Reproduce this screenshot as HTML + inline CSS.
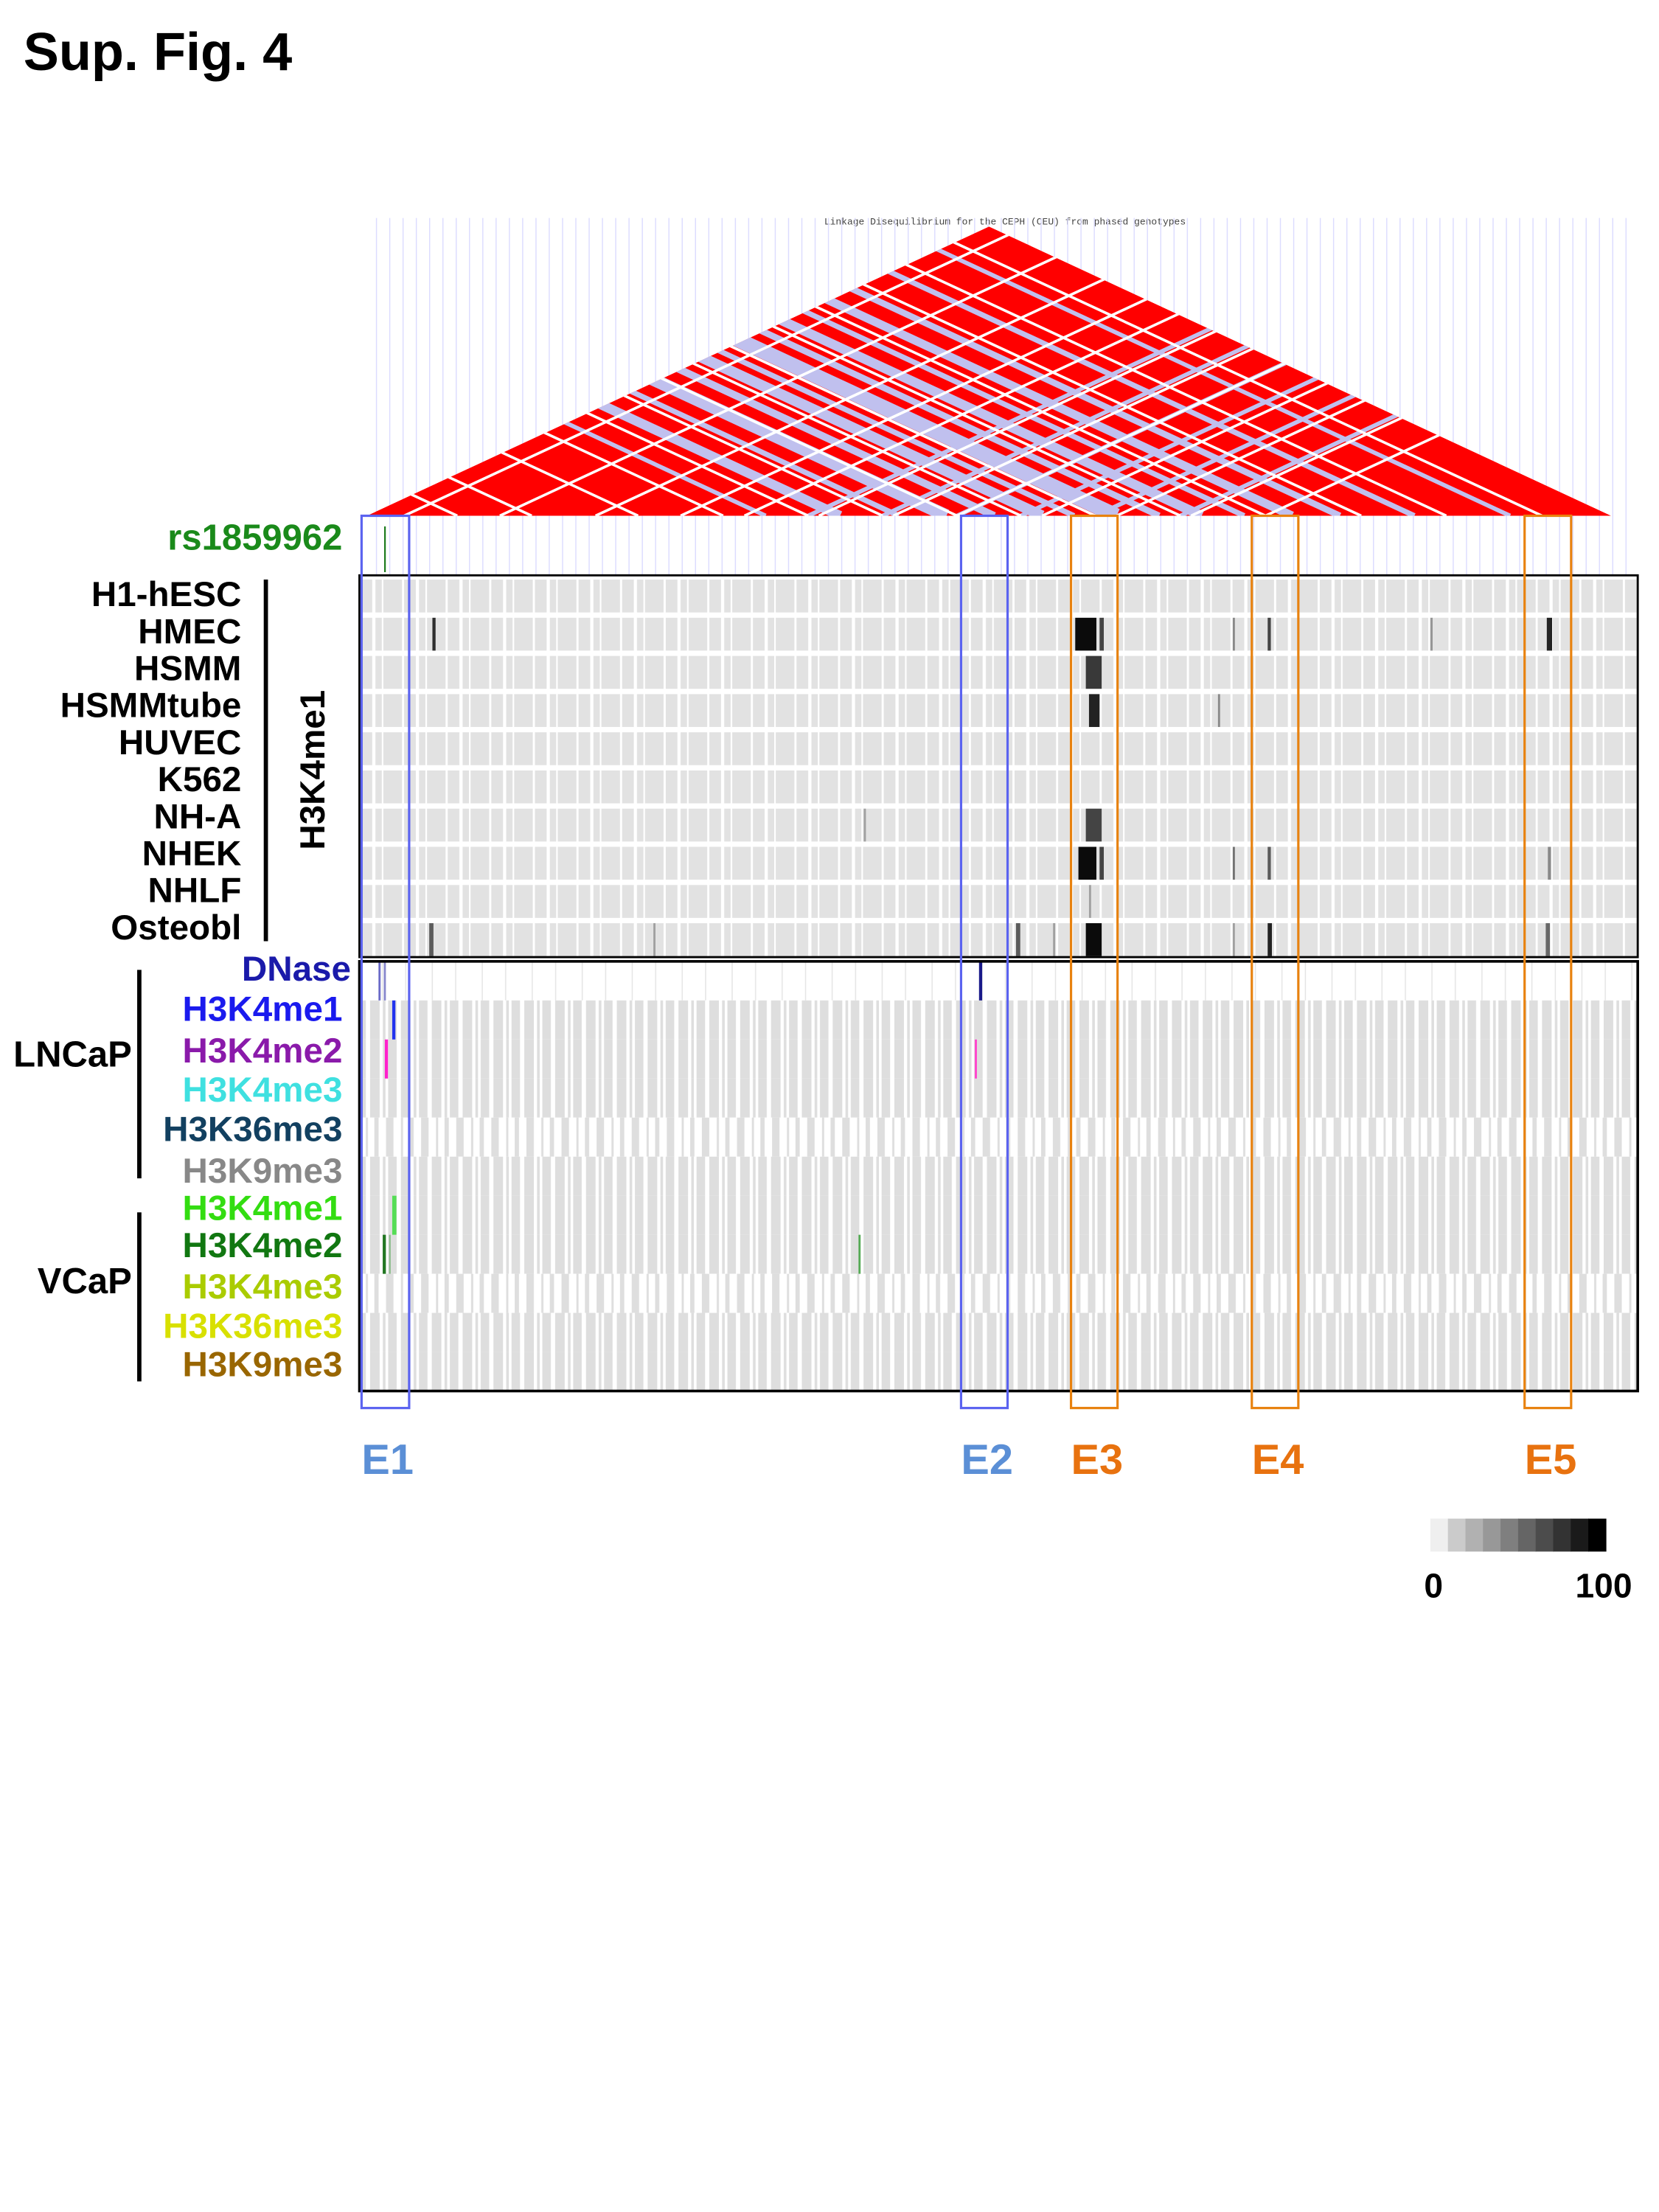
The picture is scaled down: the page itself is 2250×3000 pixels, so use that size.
<!DOCTYPE html>
<html><head><meta charset="utf-8"><style>
html,body{margin:0;padding:0;background:#fff;}
svg{display:block;}
text{font-family:"Liberation Sans",Arial,sans-serif;font-weight:bold;}
</style></head><body>
<svg id="fig" xmlns="http://www.w3.org/2000/svg" width="2250" height="3000" viewBox="0 0 1560 2080">
<defs>
<pattern id="pA" width="41" height="60" patternUnits="userSpaceOnUse"><rect width="41" height="60" fill="#e2e2e2"/><rect x="9" width="2" height="60" fill="#fff"/><rect x="22" width="3" height="60" fill="#fff"/><rect x="31" width="1.5" height="60" fill="#fff"/></pattern>
<pattern id="pB" width="29" height="60" patternUnits="userSpaceOnUse"><rect width="29" height="60" fill="#fff"/><rect x="0" width="9" height="60" fill="#dedede"/><rect x="12" width="2.5" height="60" fill="#dedede"/><rect x="17" width="8" height="60" fill="#dedede"/></pattern>
<pattern id="pC" width="33" height="60" patternUnits="userSpaceOnUse"><rect width="33" height="60" fill="#fff"/><rect x="0" width="7" height="60" fill="#dedede"/><rect x="14" width="2" height="60" fill="#dedede"/><rect x="22" width="4" height="60" fill="#dedede"/></pattern>
<pattern id="pD" width="47" height="60" patternUnits="userSpaceOnUse"><rect width="47" height="60" fill="#fff"/><rect x="5" width="1" height="60" fill="#e4e4e4"/><rect x="30" width="1" height="60" fill="#e4e4e4"/></pattern>
<clipPath id="triClip"><polygon points="345,485 930,213 1515,485"/></clipPath>
</defs>
<text x="22" y="66" font-size="50" fill="#000">Sup. Fig. 4</text>
<text x="945" y="211" font-size="9" text-anchor="middle" fill="#444" style="font-family:'Liberation Mono',monospace;font-weight:normal">Linkage Disequilibrium for the CEPH (CEU) from phased genotypes</text>
<g id="gridLines"></g>
<g id="ld" clip-path="url(#triClip)"></g>
<text x="322" y="517" font-size="34" text-anchor="end" fill="#1a8a1a">rs1859962</text>
<g id="box1"></g>
<g id="box2"></g>
<g id="labels"></g>
<line x1="250" y1="545" x2="250" y2="885" stroke="#000" stroke-width="4"/>
<text transform="translate(305,724) rotate(-90)" font-size="33" text-anchor="middle" fill="#000">H3K4me1</text>
<line x1="131" y1="912" x2="131" y2="1108" stroke="#000" stroke-width="4"/>
<text x="124" y="1003" font-size="34" text-anchor="end" fill="#000">LNCaP</text>
<line x1="131" y1="1140" x2="131" y2="1299" stroke="#000" stroke-width="4"/>
<text x="124" y="1216" font-size="34" text-anchor="end" fill="#000">VCaP</text>
<g id="eboxes"></g>
<g id="cbar"></g>
<text x="1348" y="1502" font-size="32" text-anchor="middle" fill="#000">0</text>
<text x="1508" y="1502" font-size="32" text-anchor="middle" fill="#000">100</text>
</svg>
<script>
// ---- data ----
const rowsTop = ["H1-hESC","HMEC","HSMM","HSMMtube","HUVEC","K562","NH-A","NHEK","NHLF","Osteobl"];
const rowsBottom = ["DNase","H3K4me1","H3K4me2","H3K4me3","H3K36me3","H3K9me3","H3K4me1","H3K4me2","H3K4me3","H3K36me3","H3K9me3"];
const rowsBottomColors = ["#1a1aaa","#1a1aee","#8a1aaa","#3fe0e0","#124060","#888888","#33dd11","#117711","#aacc00","#d8e000","#996600"];
const rowsBottomTexture = ["pD","pB","pB","pB","pC","pB","pB","pB","pC","pB","pB"];
// top heatmap peaks: row index, start, end (genomic units), value (0-100)
const peakRow   = [1,1,1,1,1,1,1, 2, 3,3, 6,6, 7,7,7,7,7, 8, 9,9,9,9,9,9,9,9];
const peakStart = [69,677,700,826,859,1013,1123, 687, 690,812, 687,477, 680,700,826,859,1124, 690, 66,278,621,656,687,826,859,1122];
const peakEnd   = [72,697,704,828,862,1015,1128, 702, 700,814, 702,479, 697,704,828,862,1127, 692, 70,280,625,658,702,828,863,1126];
const peakValue = [80,95,70,40,70,35,85, 75, 85,40, 70,30, 95,70,50,60,40, 30, 60,30,60,30,95,30,85,55];
// bottom colored peaks
const cRow   = [0,0,0, 1, 2,2, 6, 7,7,7];
const cStart = [18,23,586, 31, 24,582, 31, 22,28,472];
const cEnd   = [20,25,589, 34, 27,584, 35, 25,29,474];
const cColor = ["#6a6ac8","#8888cc","#1a1a8a","#2233ee","#ff22cc","#ff44cc","#55dd55","#227722","#88bb88","#55aa55"];
// enhancer regions
const eNames = ["E1","E2","E3","E4","E5"];
const eStart = [2,569,673,844,1102];
const eEnd   = [47,613,717,888,1146];
const eColor = ["#5b63f0","#5b63f0","#e8820f","#e8820f","#e8820f"];
const eLabelColor = ["#5b8fd6","#5b8fd6","#e8720f","#e8720f","#e8720f"];
// LD bands: SNP base positions
const ldLavUp = [720,790,845,890,935,980,1010,1050,1090,1130,1170,1215,1260,1330,1420];
const ldLavUpW = [4,9,5,12,7,10,5,14,6,9,5,8,6,5,4];
const ldWhiteUp = [430,500,600,680,760,830,900,960,1030,1110,1190,1280,1360,1450];
const ldWhiteDn = [380,470,560,640,700,770,840,900,980,1050,1120,1190];
const ldLavDn = [760,830,900,960,1030,1110];
const scaleValues = [0,10,20,30,40,50,60,70,80,90];

// ---- scales ----
const X0=338, X1=1540, D0=0, D1=1209;
function xs(v){return X0+(v-D0)/(D1-D0)*(X1-X0);}
function gray(v){const g=Math.round(228-v*2.28);return `rgb(${g},${g},${g})`;}
const NS="http://www.w3.org/2000/svg";
function mk(tag,attrs,parent){const e=document.createElementNS(NS,tag);for(const k in attrs)e.setAttribute(k,attrs[k]);parent.appendChild(e);return e;}

// grid lines
const gl=document.getElementById('gridLines');
for(let x=354;x<=1535;x+=12.5){
  const l=mk('line',{x1:x,y1:205,x2:x,y2:541,stroke:'#dcdcff','stroke-width':1},gl);
  
  
}
// LD triangle
const ld=document.getElementById('ld');
const base=mk('polygon',{points:'345,485 930,213 1515,485',fill:'#ff0000'},ld);


const S=0.465;
function band(p,dir,w,color){
  const L=1300;
  const l=mk('line',{x1:p,y1:485,x2:p+dir*L,y2:485-S*L,stroke:color,'stroke-width':w},ld);
  
  
}
ldLavUp.forEach((p,i)=>band(p,-1,ldLavUpW[i],'#c0c0ee'));
ldLavDn.forEach((p,i)=>band(p,1,4,'#c0c0ee'));
ldWhiteUp.forEach(p=>band(p,-1,2.5,'#ffffff'));
ldWhiteDn.forEach(p=>band(p,1,2.5,'#ffffff'));
// rs tick
const rt=mk('line',{x1:362,y1:495,x2:362,y2:538,stroke:'#1a7a1a','stroke-width':1.5},gl);



// top heatmap
const b1=document.getElementById('box1');
const T1=541, B1=900, h1=(B1-T1)/rowsTop.length;
rowsTop.forEach((n,i)=>{
  const r=mk('rect',{x:X0,y:T1+i*h1+4,width:X1-X0,height:h1-5,fill:'url(#pA)'},b1);
  
  
});
peakRow.forEach((r,i)=>{
  const e=mk('rect',{x:xs(peakStart[i]),y:T1+r*h1+4,width:Math.max(1.5,xs(peakEnd[i])-xs(peakStart[i])),height:h1-5,fill:gray(peakValue[i])},b1);
  
  
});
const o1=mk('rect',{x:X0,y:T1,width:X1-X0,height:B1-T1,fill:'none',stroke:'#000','stroke-width':2},b1);



// bottom heatmap
const b2=document.getElementById('box2');
const T2=904, B2=1308, h2=(B2-T2)/rowsBottom.length;
rowsBottom.forEach((n,i)=>{
  const r=mk('rect',{x:X0,y:T2+i*h2,width:X1-X0,height:h2,fill:'url(#'+rowsBottomTexture[i]+')'},b2);
  
  
});
cRow.forEach((r,i)=>{
  const e=mk('rect',{x:xs(cStart[i]),y:T2+r*h2,width:Math.max(1.5,xs(cEnd[i])-xs(cStart[i])),height:h2,fill:cColor[i]},b2);
  
  
});
const o2=mk('rect',{x:X0,y:T2,width:X1-X0,height:B2-T2,fill:'none',stroke:'#000','stroke-width':2.5},b2);



// labels
const lb=document.getElementById('labels');
rowsTop.forEach((n,i)=>{
  const t=mk('text',{x:227,y:570+i*34.8,'font-size':33,'text-anchor':'end',fill:'#000'},lb);
  t.textContent=n;
  
  
});
const botY=[922,960,999,1036,1073,1112,1147,1182,1221,1258,1294];
rowsBottom.forEach((n,i)=>{
  const t=mk('text',{x:i==0?330:322,y:botY[i],'font-size':33,'text-anchor':'end',fill:rowsBottomColors[i]},lb);
  t.textContent=n;
  
  
});

// enhancer boxes
const eb=document.getElementById('eboxes');
eNames.forEach((n,i)=>{
  const r=mk('rect',{x:xs(eStart[i]),y:485,width:xs(eEnd[i])-xs(eStart[i]),height:839,fill:'none',stroke:eColor[i],'stroke-width':2.2},eb);
  
  
  const t=mk('text',{x:xs(eStart[i]),y:1386,'font-size':40,fill:eLabelColor[i]},eb);
  t.textContent=n;
  
  
});

// color scale
const cb=document.getElementById('cbar');
const cw=(1510-1345)/scaleValues.length;
scaleValues.forEach((v,i)=>{
  const r=mk('rect',{x:1345+i*cw,y:1428,width:cw+0.5,height:31,fill:gray(i==0?-5:v*1.11)},cb);
  
  
});
</script>
</body></html>
